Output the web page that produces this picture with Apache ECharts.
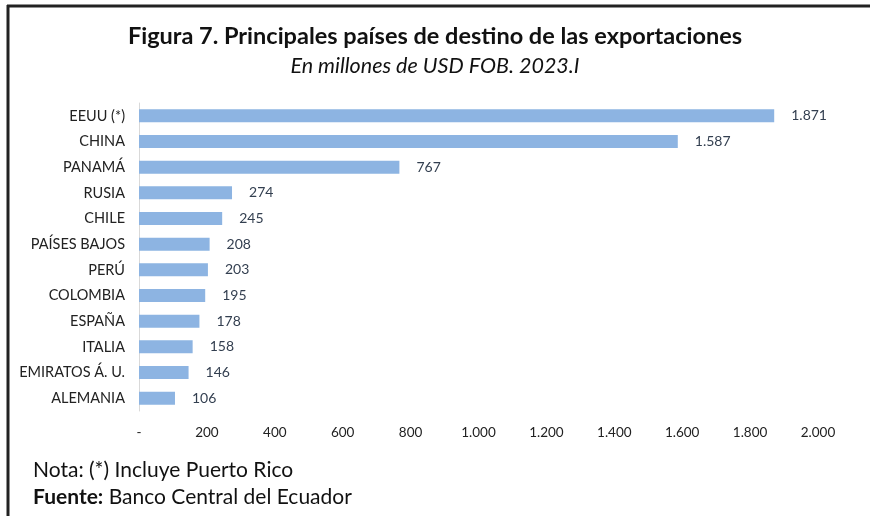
<!DOCTYPE html>
<html>
<head>
<meta charset="UTF-8">
<title>Figura 7</title>
<script src="https://cdn.jsdelivr.net/npm/echarts@6/dist/echarts.min.js"></script>
<style>
  html, body { margin: 0; padding: 0; background: #fff; }
  #chart { width: 870px; height: 516px; }
</style>
</head>
<body>
<div id="chart"></div>
<script>
// datos
var paises = ['EEUU (*)', 'CHINA', 'PANAMÁ', 'RUSIA', 'CHILE', 'PAÍSES BAJOS', 'PERÚ',
  'COLOMBIA', 'ESPAÑA', 'ITALIA', 'EMIRATOS Á. U.', 'ALEMANIA'];
var valores = [1871, 1587, 767, 274, 245, 208, 203, 195, 178, 158, 146, 106];

var FONT = 'Lato, "Open Sans", sans-serif';

// separador de miles con punto
function fmt(v) {
  if (v === 0) return '-';
  return String(v).replace(/\B(?=(\d{3})+(?!\d))/g, '.');
}

var chart = echarts.init(document.getElementById('chart'));
chart.setOption({
  animation: false,
  backgroundColor: '#fff',
  title: [{
    text: 'Figura 7. Principales países de destino de las exportaciones',
    left: 'center', top: 19,
    textStyle: { fontFamily: FONT, fontSize: 23.5, fontWeight: 'bold', color: '#111' }
  }, {
    text: 'En millones de USD FOB. 2023.I',
    left: 'center', top: 50,
    textStyle: { fontFamily: FONT, fontSize: 21.5, fontStyle: 'italic', fontWeight: 'normal', color: '#111' }
  }],
  graphic: [
    { type: 'line', shape: { x1: 7, y1: 6, x2: 870, y2: 6 }, style: { stroke: '#222', lineWidth: 3 } },
    { type: 'line', shape: { x1: 8, y1: 5, x2: 8, y2: 516 }, style: { stroke: '#222', lineWidth: 3 } },
    {
      type: 'text', left: 33, top: 460,
      style: { text: 'Nota: (*) Incluye Puerto Rico', font: '21px ' + FONT, fill: '#111' }
    },
    {
      type: 'text', left: 33, top: 487,
      style: {
        text: '{b|Fuente:} Banco Central del Ecuador',
        font: '21px ' + FONT, fill: '#111',
        rich: { b: { fontWeight: 'bold', fontSize: 21, fontFamily: FONT, fill: '#111' } }
      }
    }
  ],
  grid: { left: 139, right: 52, top: 103, bottom: 105, containLabel: false },
  xAxis: {
    type: 'value', min: 0, max: 2000, interval: 200,
    axisLine: { show: false }, axisTick: { show: false },
    splitLine: { show: false },
    axisLabel: { formatter: fmt, fontFamily: FONT, fontSize: 13.5, color: '#222', margin: 15 }
  },
  yAxis: {
    type: 'category', data: paises, inverse: true,
    axisLine: { show: true, lineStyle: { color: '#d9d9d9', width: 1 } },
    axisTick: { show: false },
    axisLabel: { fontFamily: FONT, fontSize: 14.5, color: '#222', margin: 14 }
  },
  series: [{
    type: 'bar', data: valores, barWidth: 13,
    itemStyle: { color: '#8db4e2' },
    label: {
      show: true, position: 'right', distance: 17,
      formatter: function (p) { return fmt(p.value); },
      fontFamily: FONT, fontSize: 14, color: '#333f50'
    }
  }]
});
</script>
</body>
</html>
